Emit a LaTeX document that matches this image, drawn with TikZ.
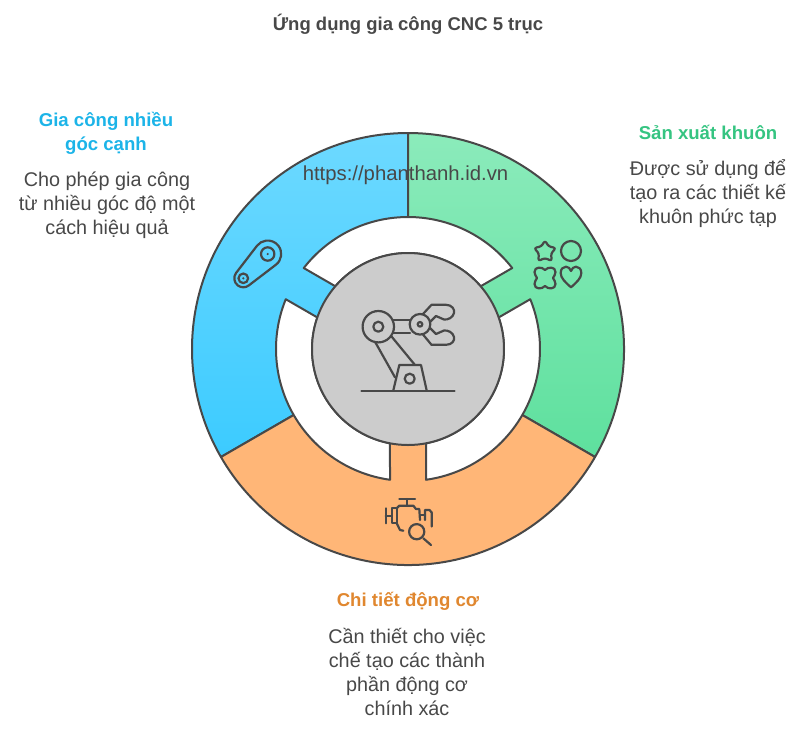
\documentclass[tikz,border=0pt]{standalone}
\usepackage{fontspec}
\usepackage{xcolor}
\setmainfont{Liberation Sans}
\definecolor{inkgray}{HTML}{484848}
\definecolor{bluetop}{HTML}{6DD9FF}
\definecolor{bluebot}{HTML}{3CCBFF}
\definecolor{greentop}{HTML}{8BEBBB}
\definecolor{greenbot}{HTML}{5EE09E}
\definecolor{orangefill}{HTML}{FFB677}
\definecolor{hubgray}{HTML}{CCCCCC}
\definecolor{bluehead}{HTML}{1CB4E8}
\definecolor{greenhead}{HTML}{35C481}
\definecolor{orangehead}{HTML}{E0872F}
\begin{document}
\begin{tikzpicture}[x=1pt,y=-1pt]
	\tikzstyle{rim}=[draw=inkgray,line width=2pt,line join=round]
	\tikzstyle{icon}=[draw=inkgray,line width=2.2pt,line join=round,line cap=round]
	\tikzstyle{head}=[align=center,font=\fontsize{18.6}{24}\selectfont\bfseries]
	\tikzstyle{body}=[align=center,text=inkgray,font=\fontsize{19.8}{24}\selectfont]
	\useasboundingbox (0,0) rectangle (804,732);

	\begin{scope}[shift={(408,349)},y=1pt]
		\path[rim,top color=bluetop,bottom color=bluebot] (0,0) -- (90:216) arc (90:210:216) -- cycle;
		\path[rim,top color=greentop,bottom color=greenbot] (0,0) -- (-30:216) arc (-30:90:216) -- cycle;
		\path[rim,fill=orangefill] (0,0) -- (210:216) arc (210:330:216) -- cycle;
		\path[rim,fill=white] (37.84:132) arc (37.84:142.16:132) -- (139.19:96) arc (139.19:40.81:96) -- cycle;
		\path[rim,fill=white] (157.84:132) arc (157.84:262.16:132) -- (259.19:96) arc (259.19:160.81:96) -- cycle;
		\path[rim,fill=white] (277.84:132) arc (277.84:382.16:132) -- (379.19:96) arc (379.19:280.81:96) -- cycle;
		\path[rim,fill=hubgray] (0,0) circle (96);
	\end{scope}

	\draw[icon] (378.3,326.7) circle (15.7);
	\draw[icon] (378.3,326.7) circle (5);
	\draw[icon] (393.5,320) -- (410,320);
	\draw[icon] (393.5,332.7) -- (410,332.7);
	\draw[icon] (420,324.3) circle (10.3);
	\draw[icon] (420,324.3) circle (2.3);
	\draw[icon] (423,314) -- (431.5,304.8) -- (446,304.8) .. controls (452,304.8) and (455,309.5) .. (454,313) .. controls (453,317.5) and (448,320) .. (444,319.5) -- (436,316) -- (430,322);
	\draw[icon] (423,334.5) -- (431.5,344.8) -- (446,344.8) .. controls (452,344.8) and (455,340.5) .. (454,337) .. controls (453,332.5) and (448,330) .. (444,330.5) -- (436,334) -- (430,328);
	\draw[icon] (375,341.7) -- (395,377.3);
	\draw[icon] (391.7,336.7) -- (415,365);
	\draw[icon] (393.3,390.5) -- (399.3,365) -- (421,365) -- (426.7,390.5);
	\draw[icon] (409.7,378.7) circle (5);
	\draw[icon] (361.5,390.7) -- (454.5,390.7);

	\begin{scope}[shift={(267.7,254)},y=1pt]
		\draw[icon] (-52.5:13.5) arc (-52.5:142.5:13.5) -- (-31.54,-18.82) arc (142.5:307.5:9) -- cycle;
		\draw[icon] (0,0) circle (6.7);
		\fill[inkgray] (0,0) circle (1.2);
		\draw[icon] (-24.4,-24.3) circle (4.8);
		\fill[inkgray] (-24.4,-24.3) circle (1.2);
	\end{scope}

	\draw[icon,rounded corners=2.4pt] (545,240.5) -- (548.6,246.4) -- (555.9,248) -- (551,253.6) -- (551.8,261) -- (545,258) -- (538.2,261) -- (539,253.6) -- (534.1,248) -- (541.4,246.4) -- cycle;
	\draw[icon] (571,251) circle (10);
	\draw[icon] (545,270) .. controls (548,266.5) and (555.5,266.5) .. (555.5,272) .. controls (555.5,274) and (554,276.5) .. (553,278) .. controls (554,279.5) and (555.5,282) .. (555.5,284) .. controls (555.5,289.5) and (548,289.5) .. (545,286) .. controls (542,289.5) and (534.5,289.5) .. (534.5,284) .. controls (534.5,282) and (536,279.5) .. (537,278) .. controls (536,276.5) and (534.5,274) .. (534.5,272) .. controls (534.5,266.5) and (542,266.5) .. (545,270) -- cycle;
	\draw[icon] (571,287.3) .. controls (565,282) and (560.7,278) .. (560.7,273) .. controls (560.7,269) and (563,266.7) .. (566,266.7) .. controls (568.5,266.7) and (570,268.5) .. (571,271) .. controls (572,268.5) and (573.5,266.7) .. (576,266.7) .. controls (579,266.7) and (581.3,269) .. (581.3,273) .. controls (581.3,278) and (577,282) .. (571,287.3) -- cycle;

	\draw[icon] (399.3,499) -- (415,499);
	\draw[icon] (407.3,499) -- (407.3,505.7);
	\draw[icon] (385.7,508.3) -- (385.7,523.3);
	\draw[icon] (385.7,515.7) -- (391.7,515.7);
	\draw[icon] (391.7,508.3) -- (396.7,508.3) -- (396.7,523.3) -- (391.7,523.3) -- cycle;
	\draw[icon] (396.7,508.3) -- (399.3,505.7) -- (413.3,505.7) -- (416,509) -- (419.3,509) -- (420,520);
	\draw[icon] (396.7,523.3) -- (400,530) -- (403.3,530.7);
	\draw[icon] (420,515) -- (425,515);
	\draw[icon] (425,520) -- (425,510) -- (429.5,510) -- (431.7,512.5) -- (431.7,526.5);
	\draw[icon] (416.7,531.7) circle (7.6);
	\draw[icon] (423.3,538.3) -- (431,545);

	\node[font=\fontsize{18.5}{22}\selectfont\bfseries,text=inkgray] (title) at (408,24.5) {Ứng dụng gia công CNC 5 trục};
	\node[font=\fontsize{20.3}{22}\selectfont,text=inkgray] (site) at (405.5,175.5) {https://phanthanh.id.vn};
	\node[head,text=bluehead] (head1) at (106,133.5) {Gia công nhiều\\góc cạnh};
	\node[body] (body1) at (107,205) {Cho phép gia công\\từ nhiều góc độ một\\cách hiệu quả};
	\node[head,text=greenhead] (head2) at (708,132) {Sản xuất khuôn};
	\node[body] (body2) at (708,193.5) {Được sử dụng để\\tạo ra các thiết kế\\khuôn phức tạp};
	\node[head,text=orangehead] (head3) at (408,601.5) {Chi tiết động cơ};
	\node[body] (body3) at (407,672) {Cần thiết cho việc\\chế tạo các thành\\phần động cơ\\chính xác};
\end{tikzpicture}
\end{document}
